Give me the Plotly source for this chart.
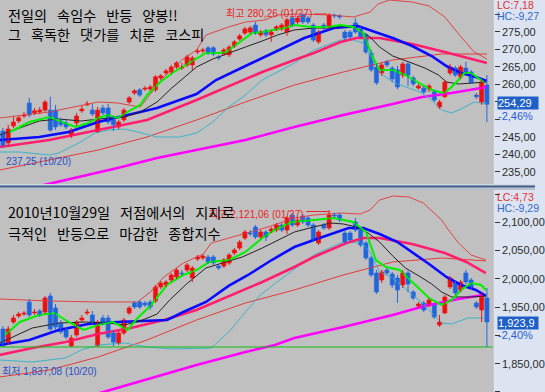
import plotly.graph_objects as go

# ============================ DATA ============================
# Upper panel: KOSPI200 daily candles (bar 0 = first visible day, last bar = 2011-03-15)
k200_open = [246.6, 243.2, 248.1, 249.5, 250.9, 254.6, 251.8, 252.1, 252.6, 252.6,
             252.6, 249.5, 248.9, 245.5, 248.9, 252.4, 254.1, 252.6, 246.4, 253.2,
             253.2, 249.8, 247.8, 249.8, 254.9, 257.5, 258.4, 258.6, 258.6, 258.4,
             261.8, 263.2, 263.5, 264.9, 264.6, 265.5, 265.5, 269.2, 269.5, 270.4,
             270.4, 267.8, 268.6, 268.4, 270.9, 272.9, 274.6, 274.9, 276.9, 274.1,
             275.2, 274.1, 275.8, 275.8, 274.9, 278.9, 277.8, 279.8, 278.9, 276.9,
             272.1, 276.9, 276.4, 279.8, 279.5, 274.9, 274.9, 277.5, 275.8, 274.1,
             268.9, 264.9, 263.2, 266.4, 264.6, 264.1, 262.6, 265.8, 261.8, 258.9,
             258.9, 258.6, 257.8, 253.5, 256.4, 263.2, 264.6, 262.1, 264.6, 263.5,
             256.9, 254.9, 259.8]
k200_high = [247.5, 248.4, 250.6, 250.9, 252.1, 256.1, 253.2, 253.5, 255.5, 256.4,
             254.1, 250.4, 249.8, 247.5, 251.8, 253.8, 255.2, 254.4, 253.5, 254.1,
             254.4, 250.9, 249.8, 253.2, 256.6, 258.6, 258.9, 259.5, 259.8, 262.6,
             262.9, 264.4, 265.5, 266.6, 266.1, 268.4, 268.1, 270.1, 270.4, 270.9,
             270.9, 268.4, 270.4, 271.2, 272.6, 274.4, 276.4, 276.6, 277.8, 275.5,
             275.8, 275.5, 276.9, 277.5, 278.9, 279.5, 279.5, 280.1, 279.5, 277.5,
             275.5, 277.5, 280.26, 280.1, 280.0, 275.5, 275.5, 278.9, 276.4, 274.6,
             269.8, 265.8, 266.1, 266.9, 265.2, 265.2, 266.4, 266.4, 262.4, 260.1,
             259.5, 260.1, 258.4, 255.5, 261.2, 265.8, 265.2, 265.5, 266.4, 264.1,
             257.5, 261.2, 262.6]
k200_low = [241.8, 242.1, 247.5, 248.9, 250.4, 250.6, 251.2, 251.5, 252.1, 246.4,
            246.9, 247.8, 247.2, 244.6, 248.1, 251.8, 253.8, 250.9, 246.1, 251.2,
            248.6, 246.6, 247.2, 249.2, 254.4, 256.9, 256.4, 258.1, 258.1, 257.8,
            261.2, 262.6, 262.9, 264.4, 264.1, 264.9, 264.1, 268.6, 268.9, 268.4,
            268.1, 266.9, 268.1, 267.8, 270.4, 272.4, 274.1, 274.4, 274.1, 273.5,
            273.5, 272.1, 275.2, 275.2, 273.8, 276.4, 277.2, 277.2, 277.2, 272.1,
            271.5, 275.5, 275.8, 278.9, 278.6, 272.6, 272.9, 274.4, 272.9, 268.6,
            263.5, 259.8, 262.4, 264.9, 260.6, 258.6, 261.8, 259.5, 259.5, 258.4,
            257.2, 257.8, 254.9, 252.9, 256.1, 262.6, 262.1, 261.5, 262.9, 260.1,
            255.8, 254.1, 249.2]
k200_close = [242.4, 247.2, 249.2, 250.4, 251.2, 251.2, 252.4, 252.6, 254.9, 246.9,
              247.8, 248.4, 247.8, 246.9, 250.9, 252.9, 254.4, 251.5, 252.6, 251.8,
              249.2, 248.4, 249.2, 252.6, 256.1, 258.1, 256.9, 258.9, 259.2, 262.1,
              262.4, 263.8, 264.9, 266.1, 264.9, 267.8, 267.5, 269.5, 269.8, 268.9,
              268.6, 267.5, 269.8, 270.6, 272.1, 273.8, 275.8, 276.1, 274.6, 274.9,
              274.1, 274.9, 276.4, 276.9, 278.4, 276.9, 278.9, 277.8, 277.8, 272.6,
              274.9, 276.1, 279.8, 279.5, 279.2, 273.2, 273.5, 274.9, 273.5, 269.2,
              264.1, 260.4, 265.5, 265.5, 261.5, 259.2, 265.8, 262.6, 260.1, 259.5,
              257.8, 259.5, 255.5, 254.9, 260.6, 264.9, 262.6, 264.9, 263.5, 260.4,
              256.4, 260.6, 254.29]

# Upper panel indicator lines (bar position, value)
k200_ma5_x = [1.3, 5.0, 8.8, 11.2, 13.8, 16.2, 18.1, 20.0, 21.8, 24.3, 26.1, 27.4, 29.9, 32.5,
              35.5, 37.3, 38.6, 41.0, 42.4, 44.8, 47.4, 49.3, 51.7, 53.5, 55.4, 58.6, 61.6,
              64.2, 66.6, 68.5, 70.3, 71.6, 74.1, 76.5, 79.1, 81.5, 83.8, 85.3, 86.6, 87.7,
              89.0, 90.3, 91.4]
k200_ma5_y = [246.35, 249.2, 250.63, 249.2, 247.77, 248.92, 250.35, 251.2, 250.35, 252.63,
              254.06, 256.92, 260.63, 263.49, 266.06, 267.77, 268.92, 268.92, 269.2, 271.77,
              274.63, 274.92, 275.49, 276.06, 276.92, 276.35, 276.35, 276.92, 276.35, 274.63,
              267.77, 264.06, 264.06, 262.63, 260.35, 258.35, 257.49, 259.2, 261.2, 263.2,
              263.2, 261.77, 260.63]
k200_ma10_x = [-0.6, 3.2, 6.9, 10.6, 14.9, 18.1, 20.9, 23.1, 26.1, 29.3, 32.1, 34.9, 36.8,
               39.9, 42.9, 46.1, 49.3, 52.2, 55.4, 59.1, 61.9, 64.2, 67.2, 69.8, 71.6, 74.1,
               77.2, 80.2, 82.8, 84.3, 86.6, 89.0, 91.8]
k200_ma10_y = [245.49, 247.49, 249.49, 250.06, 249.49, 250.06, 250.35, 250.63, 252.06, 254.92,
               258.92, 262.35, 264.92, 267.2, 268.92, 270.63, 272.35, 274.06, 275.49, 276.06,
               276.06, 276.63, 276.06, 273.49, 270.63, 268.06, 266.35, 264.63, 262.63, 260.63,
               260.06, 260.35, 260.63]
k200_ma20_x = [-0.6, 6.9, 12.5, 18.1, 23.7, 29.3, 36.8, 40.5, 46.1, 51.7, 57.3, 62.9, 67.5,
               71.3, 74.1, 77.8, 81.5, 84.3, 87.1, 89.9, 92.0]
k200_ma20_y = [244.06, 244.92, 246.35, 249.2, 251.2, 253.2, 257.2, 261.2, 265.2, 269.2, 273.2,
               276.06, 276.63, 274.63, 273.2, 270.92, 268.06, 265.2, 263.2, 262.06, 260.92]
k200_ma60_x = [-0.6, 8.8, 18.1, 27.4, 36.8, 42.9, 49.3, 55.4, 59.1, 64.2, 67.2, 71.6, 77.8,
               84.0, 92.0]
k200_ma60_y = [242.06, 244.06, 246.92, 249.77, 255.49, 259.49, 263.49, 266.92, 268.92, 272.06,
               273.2, 273.2, 271.49, 269.2, 266.06]
k200_ma120_x = [-0.6, 8.8, 18.1, 27.4, 36.8, 46.1, 55.4, 64.7, 74.1, 83.4, 92.0]
k200_ma120_y = [235.49, 238.35, 241.2, 244.92, 249.77, 254.92, 259.77, 263.49, 266.92, 268.63,
                268.63]
k200_ma240_x = [-0.6, 9.7, 18.1, 21.8, 29.3, 36.8, 46.1, 55.4, 64.7, 74.1, 79.7, 85.3, 92.0]
k200_ma240_y = [228.3, 231.77, 234.63, 236.06, 238.92, 241.2, 244.06, 247.77, 251.2, 254.35,
                256.35, 257.49, 259.2]
k200_bbl_x = [-0.6, 3.2, 8.8, 10.6, 14.4, 17.5, 20.0, 23.1, 25.6, 29.3, 33.6, 36.8, 39.9, 42.9,
              46.1, 49.3, 52.2, 55.4, 59.1, 64.2, 66.6, 68.5, 70.3, 72.2, 74.1, 77.2, 79.7,
              81.5, 83.4, 85.3, 87.1, 89.6, 92.0]
k200_bbl_y = [240.63, 240.63, 239.77, 240.35, 243.2, 246.06, 246.92, 247.2, 246.35, 244.92,
              244.92, 246.06, 249.2, 253.49, 256.92, 261.2, 263.49, 266.06, 269.77, 272.63,
              272.63, 271.77, 266.92, 262.63, 260.63, 258.92, 257.49, 255.49, 252.63, 251.77,
              252.92, 254.92, 254.35]
k200_bbu_x = [-0.6, 8.8, 18.1, 21.8, 26.1, 30.6, 34.0, 36.8, 38.6, 42.9, 46.1, 49.8, 52.2,
              56.0, 62.3, 66.6, 69.8, 71.3, 73.5, 77.8, 81.0, 84.0, 87.1, 89.6, 92.0]
k200_bbu_y = [250.35, 252.06, 254.92, 254.63, 253.49, 262.06, 266.92, 269.77, 274.06, 276.35,
              277.77, 278.35, 279.77, 280.06, 279.77, 279.2, 280.63, 282.92, 284.06, 283.49,
              282.35, 279.2, 273.49, 269.2, 267.2]

# Lower panel: KOSPI composite daily candles
kospi_open = [1911.3, 1886.6, 1923.7, 1934.3, 1937.8, 1959.1, 1939.6, 1943.2, 1941.4, 1969.7,
              1948.5, 1921.9, 1909.6, 1881.3, 1900.7, 1927.2, 1939.6, 1936.1, 1881.3, 1930.8,
              1930.8, 1904.3, 1886.6, 1904.3, 1939.6, 1957.3, 1959.1, 1957.3, 1959.1, 1960.8,
              1985.6, 1989.1, 1997.9, 2003.3, 2010.3, 2015.6, 2001.5, 2035.1, 2036.9, 2038.6,
              2038.6, 2022.7, 2022.7, 2028.0, 2045.7, 2054.5, 2072.2, 2081.1, 2091.7, 2074.0,
              2082.8, 2084.6, 2086.4, 2095.2, 2086.4, 2112.9, 2095.2, 2111.1, 2107.6, 2095.2,
              2063.4, 2095.2, 2089.9, 2112.9, 2112.9, 2081.1, 2081.1, 2100.5, 2086.4, 2063.4,
              2036.9, 2010.3, 1997.9, 2015.6, 2008.6, 2001.5, 1989.1, 2010.3, 1976.7, 1952.0,
              1957.3, 1953.8, 1953.8, 1918.4, 1939.6, 1985.6, 1994.4, 1980.3, 2010.3, 1997.9,
              1957.3, 1944.9, 1966.1]
kospi_high = [1916.6, 1916.6, 1936.1, 1941.4, 1943.2, 1964.4, 1946.7, 1946.7, 1969.7, 1975.0,
              1955.5, 1927.2, 1914.9, 1900.7, 1927.2, 1936.1, 1946.7, 1943.2, 1927.2, 1936.1,
              1936.1, 1909.6, 1907.8, 1930.8, 1952.0, 1960.8, 1962.6, 1960.8, 1962.6, 1989.1,
              1996.2, 1997.9, 2010.3, 2019.2, 2015.6, 2028.0, 2022.7, 2042.2, 2043.9, 2042.2,
              2042.2, 2026.2, 2036.9, 2045.7, 2054.5, 2068.7, 2086.4, 2086.4, 2095.2, 2086.4,
              2086.4, 2091.7, 2098.7, 2098.7, 2111.1, 2116.4, 2107.6, 2114.7, 2111.1, 2098.7,
              2086.4, 2098.7, 2121.06, 2116.4, 2116.4, 2084.6, 2084.6, 2107.6, 2089.9, 2066.9,
              2040.4, 2015.6, 2015.6, 2019.2, 2012.1, 2006.8, 2015.6, 2013.9, 1980.3, 1959.1,
              1960.8, 1966.1, 1957.3, 1936.1, 1971.4, 2005.0, 1997.9, 1997.9, 2015.6, 2001.5,
              1960.8, 1975.0, 1983.8]
kospi_low = [1879.5, 1883.0, 1920.2, 1930.8, 1934.3, 1932.5, 1936.1, 1932.5, 1937.8, 1907.8,
             1909.6, 1902.5, 1893.6, 1879.5, 1897.2, 1923.7, 1936.1, 1918.4, 1879.5, 1918.4,
             1893.6, 1881.3, 1883.0, 1900.7, 1936.1, 1946.7, 1946.7, 1950.2, 1944.9, 1957.3,
             1982.0, 1985.6, 1994.4, 1999.7, 2005.0, 2012.1, 1994.4, 2031.6, 2033.3, 2026.2,
             2024.5, 2015.6, 2019.2, 2024.5, 2042.2, 2051.0, 2068.7, 2075.8, 2070.4, 2070.4,
             2066.9, 2081.1, 2082.8, 2082.8, 2079.3, 2091.7, 2091.7, 2097.0, 2091.7, 2065.1,
             2059.8, 2086.4, 2086.4, 2107.6, 2100.5, 2061.6, 2065.1, 2082.8, 2056.3, 2033.3,
             2003.3, 1973.2, 1992.6, 2006.8, 1983.8, 1957.3, 1983.8, 1976.7, 1962.6, 1948.5,
             1941.4, 1950.2, 1929.0, 1914.9, 1937.8, 1982.0, 1971.4, 1976.7, 1990.9, 1980.3,
             1946.7, 1923.7, 1879.5]
kospi_close = [1881.3, 1911.3, 1930.8, 1937.8, 1939.6, 1936.1, 1941.4, 1936.1, 1966.1, 1911.3,
               1914.9, 1906.0, 1897.2, 1895.4, 1923.7, 1930.8, 1941.4, 1921.9, 1923.7, 1921.9,
               1897.2, 1888.3, 1904.3, 1927.2, 1948.5, 1950.2, 1950.2, 1953.8, 1950.2, 1985.6,
               1992.6, 1994.4, 2006.8, 2015.6, 2008.6, 2024.5, 2019.2, 2038.6, 2040.4, 2029.8,
               2028.0, 2019.2, 2033.3, 2042.2, 2051.0, 2065.1, 2082.8, 2079.3, 2074.0, 2082.8,
               2074.0, 2088.1, 2095.2, 2086.4, 2107.6, 2095.2, 2104.0, 2100.5, 2095.2, 2068.7,
               2082.8, 2089.9, 2112.9, 2111.1, 2104.0, 2065.1, 2068.7, 2086.4, 2059.8, 2036.9,
               2006.8, 1976.7, 2012.1, 2010.3, 1989.1, 1980.3, 2010.3, 1990.9, 1966.1, 1955.5,
               1944.9, 1962.6, 1932.5, 1923.7, 1967.9, 2001.5, 1975.0, 1994.4, 1994.4, 1983.8,
               1950.2, 1971.4, 1923.9]

kospi_ma5_x = [0.4, 3.2, 6.9, 9.7, 12.5, 15.3, 18.1, 20.9, 23.7, 25.6, 28.0, 31.2, 34.3, 36.8,
               39.2, 42.9, 46.1, 49.3, 51.7, 54.9, 59.1, 62.9, 66.6, 69.0, 70.9, 72.8, 75.4,
               77.8, 81.0, 83.4, 85.3, 87.1, 89.0, 90.9, 91.8]
kospi_ma5_y = [1900.7, 1923.7, 1936.1, 1939.6, 1923.7, 1909.6, 1918.4, 1923.7, 1909.6, 1930.8,
               1952.0, 1989.1, 2006.8, 2015.6, 2029.8, 2033.3, 2047.5, 2072.2, 2086.4, 2100.5,
               2104.0, 2107.6, 2100.5, 2082.8, 2033.3, 2020.9, 2015.6, 1994.4, 1966.1, 1953.8,
               1962.6, 1980.3, 1992.6, 1989.1, 1980.3]
kospi_ma10_x = [-0.6, 5.6, 10.6, 15.7, 20.0, 23.1, 26.1, 29.3, 31.7, 34.9, 38.6, 41.8, 45.5,
                49.3, 53.0, 55.4, 59.1, 62.3, 64.7, 67.2, 69.4, 71.6, 74.1, 76.5, 79.1, 81.5,
                83.4, 85.3, 89.0, 91.8]
kospi_ma10_y = [1886.6, 1913.1, 1921.9, 1923.7, 1921.9, 1918.4, 1925.5, 1937.8, 1962.6, 1990.9,
                2019.2, 2028.0, 2038.6, 2054.5, 2072.2, 2082.8, 2091.7, 2098.7, 2097.0, 2091.7,
                2081.1, 2065.1, 2040.4, 2019.2, 2005.0, 1990.9, 1976.7, 1967.9, 1967.9, 1969.7]
kospi_ma20_x = [-0.6, 5.0, 10.6, 16.2, 21.8, 27.4, 31.2, 34.3, 38.6, 42.9, 46.6, 51.1, 55.4,
                59.1, 62.9, 65.7, 68.5, 71.6, 75.0, 77.8, 81.0, 84.3, 87.1, 89.9, 91.8]
kospi_ma20_y = [1883.0, 1891.9, 1909.6, 1920.2, 1923.7, 1925.5, 1927.2, 1941.4, 1959.1, 1987.4,
                2006.8, 2033.3, 2056.3, 2068.7, 2081.1, 2089.9, 2089.9, 2079.3, 2065.1, 2047.5,
                2026.2, 2003.3, 1989.1, 1980.3, 1969.7]
kospi_ma60_x = [-0.6, 5.6, 11.9, 18.1, 24.3, 30.6, 36.8, 42.9, 49.3, 55.4, 59.1, 65.3, 68.5,
                71.6, 77.8, 84.0, 88.1, 91.8]
kospi_ma60_y = [1865.4, 1877.7, 1888.3, 1902.5, 1913.1, 1927.2, 1944.9, 1969.7, 1994.4, 2020.9,
                2038.6, 2063.4, 2072.2, 2072.2, 2061.6, 2045.7, 2029.8, 2010.3]
kospi_ma120_x = [-0.6, 8.8, 18.1, 27.4, 36.8, 46.1, 55.4, 64.7, 74.1, 83.4, 91.8]
kospi_ma120_y = [1826.5, 1838.8, 1861.8, 1891.9, 1927.2, 1957.3, 1980.3, 2006.8, 2029.8, 2036.9,
                 2031.6]
kospi_ma240_x = [-0.6, 19.0, 27.4, 36.8, 46.1, 51.7, 55.4, 64.7, 74.1, 80.2, 86.6, 91.2]
kospi_ma240_y = [1746.9, 1800.1, 1822.9, 1847.7, 1870.7, 1883.0, 1895.4, 1914.9, 1936.1, 1952.0,
                 1964.4, 1971.4]
kospi_bbl_x = [-0.6, 5.6, 11.9, 14.9, 18.1, 23.1, 27.4, 32.1, 39.6, 43.3, 46.1, 48.9, 52.6,
               59.1, 64.2, 67.9, 69.8, 71.6, 74.1, 77.2, 79.7, 83.4, 85.3, 88.4, 91.4]
kospi_bbl_y = [1856.5, 1853.0, 1860.1, 1874.2, 1883.0, 1886.6, 1879.5, 1876.0, 1877.7, 1909.6,
               1941.4, 1971.4, 1997.9, 2042.2, 2063.4, 2065.1, 2047.5, 2012.1, 2001.5, 1976.7,
               1957.3, 1921.9, 1920.2, 1930.8, 1930.8]
kospi_bbu_x = [-0.6, 8.8, 18.1, 25.6, 28.0, 30.6, 34.3, 38.1, 39.6, 42.9, 46.6, 50.4, 55.4,
               59.1, 64.2, 67.9, 69.8, 71.6, 74.1, 77.2, 79.9, 81.7, 83.4, 84.7, 86.6, 89.0, 91.8]
kospi_bbu_y = [1964.4, 1960.8, 1959.1, 1959.1, 1976.7, 2003.3, 2028.0, 2043.9, 2063.4, 2072.2,
               2081.1, 2091.7, 2107.6, 2112.9, 2116.4, 2114.6, 2121.7, 2139.4, 2146.5, 2144.7,
               2134.1, 2118.2, 2104.0, 2086.4, 2063.4, 2042.2, 2033.3]
kospi_support = 1879.5   # 2010-10-29 low

# tick labels ("" where the reference's label is covered by a side box)
k200_ticks = [235, 240, 245, 250, 255, 260, 265, 270, 275, 280]
k200_ticktext = ["235,00", "240,00", "245,00", "", "", "260,00", "265,00",
                 "270,00", "275,00", ""]
kospi_ticks = [1800, 1850, 1900, 1950, 2000, 2050, 2100, 2150]
kospi_ticktext = ["1,800,00", "1,850,00", "", "1,950,00", "2,000,00", "2,050,00",
                  "2,100,00", ""]

# ============================ STYLE ============================
W, H = 545, 392
PLOT_R = 503
TOP_END, BOT_START = 184, 190
UP, DOWN = "#ee1111", "#2266dd"
KR = "Noto Sans CJK KR"
NUM = "Liberation Sans, Noto Sans CJK KR"
SIDE_BG = "#dbe4f0"


def px(x):
    return x / W


def py(y):
    return 1 - y / H


fig = go.Figure()


def add_line(xs, ys, color, width, xa, ya):
    fig.add_trace(go.Scatter(x=xs, y=ys, mode="lines", line=dict(color=color, width=width),
                             xaxis=xa, yaxis=ya, hoverinfo="skip", showlegend=False))


def add_candles(o, h, l, c, xa, ya):
    for rising, col in ((True, UP), (False, DOWN)):
        sel = [i for i in range(len(o)) if (c[i] >= o[i]) == rising]
        wx, wy = [], []
        for i in sel:
            wx += [i, i, None]
            wy += [l[i], h[i], None]
        fig.add_trace(go.Scatter(x=wx, y=wy, mode="lines", line=dict(color=col, width=1),
                                 xaxis=xa, yaxis=ya, hoverinfo="skip", showlegend=False))
        fig.add_trace(go.Bar(x=sel, base=[min(o[i], c[i]) for i in sel],
                             y=[abs(c[i] - o[i]) for i in sel], width=0.78,
                             marker=dict(color=col, line=dict(color=col, width=0.6)),
                             xaxis=xa, yaxis=ya, hoverinfo="skip", showlegend=False))


panels = [
    ("x", "y", [(k200_ma240_x, k200_ma240_y, "#ff00ff", 2.6),
                (k200_ma120_x, k200_ma120_y, "#e23a3a", 1),
                (k200_bbl_x, k200_bbl_y, "#3cb4c8", 1),
                (k200_bbu_x, k200_bbu_y, "#e04444", 1),
                (k200_ma60_x, k200_ma60_y, "#ff1f6e", 2.6),
                (k200_ma20_x, k200_ma20_y, "#0a0aff", 2.6),
                (k200_ma10_x, k200_ma10_y, "#222222", 1),
                (k200_ma5_x, k200_ma5_y, "#00f000", 2)],
     (k200_open, k200_high, k200_low, k200_close)),
    ("x2", "y2", [(kospi_ma240_x, kospi_ma240_y, "#ff00ff", 2.6),
                  (kospi_ma120_x, kospi_ma120_y, "#e23a3a", 1),
                  (kospi_bbl_x, kospi_bbl_y, "#3cb4c8", 1),
                  (kospi_bbu_x, kospi_bbu_y, "#e04444", 1),
                  (kospi_ma60_x, kospi_ma60_y, "#ff1f6e", 2.6),
                  (kospi_ma20_x, kospi_ma20_y, "#0a0aff", 2.6),
                  (kospi_ma10_x, kospi_ma10_y, "#222222", 1),
                  (kospi_ma5_x, kospi_ma5_y, "#00f000", 2)],
     (kospi_open, kospi_high, kospi_low, kospi_close)),
]

for xa, ya, lines, ohlc in panels:
    for xs, ys, col, wd in lines:
        add_line(xs, ys, col, wd, xa, ya)
    add_candles(*ohlc, xa, ya)

n_bars = len(k200_open)
x_range = [-0.56, n_bars - 1 + (PLOT_R - 496) / 5.36]

axis_common = dict(showgrid=False, zeroline=False, showline=False)
yax_common = dict(side="right", ticks="outside", ticklen=5, tickcolor="#333333",
                  tickfont=dict(family="Liberation Sans", size=11, color="#2a2a2a"),
                  showgrid=False, zeroline=False, showline=False)

fig.update_layout(
    width=W, height=H, margin=dict(l=0, r=0, t=0, b=0),
    paper_bgcolor=SIDE_BG, plot_bgcolor="#c0c0c0",
    barmode="overlay", showlegend=False, hovermode=False,
    xaxis=dict(domain=[0, px(PLOT_R)], range=x_range, visible=False, anchor="y", **axis_common),
    xaxis2=dict(domain=[0, px(PLOT_R)], range=x_range, visible=False, anchor="y2", **axis_common),
    yaxis=dict(domain=[py(TOP_END), 1], range=[231.49, 284.06], anchor="x",
               tickvals=k200_ticks, ticktext=k200_ticktext, **yax_common),
    yaxis2=dict(domain=[0, py(BOT_START)], range=[1799.9, 2157.1], anchor="x2",
                tickvals=kospi_ticks, ticktext=kospi_ticktext, **yax_common),
)

shapes = [
    dict(type="rect", xref="paper", yref="paper", x0=0, x1=1, y0=py(BOT_START), y1=py(TOP_END),
         fillcolor="#d2d8e2", line=dict(width=0)),
    dict(type="line", xref="paper", yref="paper", x0=0, x1=1, y0=py(186.5), y1=py(186.5),
         line=dict(color="#3d5a86", width=2)),
    dict(type="line", xref="paper", yref="paper", x0=0, x1=1, y0=py(189), y1=py(189),
         line=dict(color="#9aa6b6", width=1)),
    dict(type="line", xref="x2 domain", yref="y2", x0=0, x1=0.998, y0=kospi_support,
         y1=kospi_support, line=dict(color="#10c010", width=1)),
    dict(type="line", xref="paper", yref="paper", x0=px(320), x1=px(333), y0=py(14), y1=py(14),
         line=dict(color="#ee2222", width=1)),
    dict(type="line", xref="paper", yref="paper", x0=px(312), x1=px(336), y0=py(211.5),
         y1=py(211.5), line=dict(color="#ee2222", width=1)),
]
fig.update_layout(shapes=shapes)

ann = []


def text(x, y, s, color, size, family, xanchor="left", bg=None, width=None, align="left"):
    d = dict(xref="paper", yref="paper", x=px(x), y=py(y), text=s, showarrow=False,
             xanchor=xanchor, yanchor="middle", align=align,
             font=dict(color=color, size=size, family=family), borderpad=0)
    if bg:
        d["bgcolor"] = bg
    if width:
        d["width"] = width
    ann.append(d)


SP = "\u2002\u2009"
# red high labels (drawn first)
text(319, 14, "최고 280,26 (01/27)", "#ee2222", 10, NUM, xanchor="right")
text(311, 214, "최고 2,121,06 (01/27)", "#ee2222", 10, NUM, xanchor="right")
# blue low labels
text(5, 162, "237,25 (10/20)", "#2a4ec8", 10, NUM)
text(1, 371, "최저 1,837,08 (10/20)", "#2a4ec8", 10, NUM)
# headline texts
HS = 14.2
text(7, 14.5, SP.join(["전일의", "속임수", "반등", "양봉!!"]), "#000000", HS, KR)
text(7, 33.5, SP.join(["그", "혹독한", "댓가를", "치룬", "코스피"]), "#000000", HS, KR)
text(7, 212, SP.join(["2010년10월29일", "저점에서의", "지지로"]), "#000000", HS, KR)
text(7, 232.5, SP.join(["극적인", "반등으로", "마감한", "종합지수"]), "#000000", HS, KR)
# right column boxes
text(505, 4.5, "LC:7,18", "#e83030", 10.5, NUM)
text(505, 16, "HC:-9,27", "#3468cc", 10.5, NUM)
text(506, 102.5, "254,29", "#ffffff", 11, NUM, bg="#1f5fc8", width=40)
text(506, 115.5, "-2,46%", "#2a5ed0", 11, NUM)
text(505, 196.5, "LC:4,73", "#e83030", 10.5, NUM)
text(505, 208, "HC:-9,29", "#3468cc", 10.5, NUM)
text(506, 322.8, "1,923,9", "#ffffff", 11, NUM, bg="#1f5fc8", width=40)
text(506, 334.5, "-2,40%", "#2a5ed0", 11, NUM)

fig.update_layout(annotations=ann)
fig.write_html("out.html")
